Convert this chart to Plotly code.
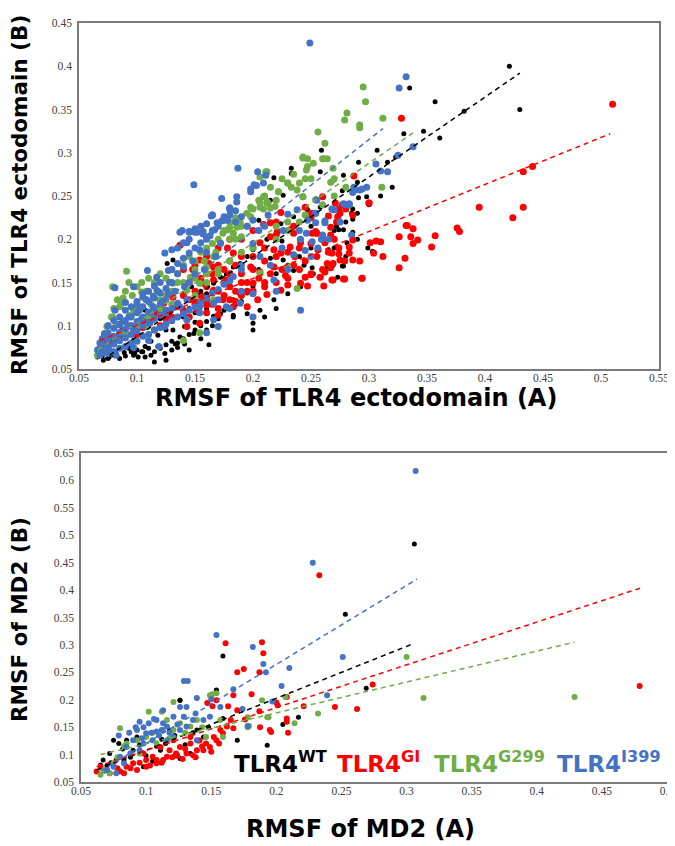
import plotly.graph_objects as go

# ---------------- Top panel: TLR4 ectodomain ----------------
ecto_wt_x = [0.421,0.430,0.335,0.357,0.382,0.347,0.361,0.330,0.307,0.291,0.316,0.278,0.323,0.290,0.277,0.291,0.298,0.286,
             0.259,0.233,0.233,0.218,0.258,0.269,0.194,0.226,
             0.286,0.272,0.278,0.286,0.299,0.304,0.278,0.269,
             0.285,0.274,0.303,0.277,0.251,0.257,0.244,0.265,0.281,
             0.066,0.071,0.076,0.082,0.089,0.098,0.101,0.107,0.112,0.118,0.124,0.130,0.133,0.141,0.137,0.149,0.160,0.166,0.172,0.183,
             0.170,0.118,0.107,0.097,0.131,0.141,0.154,0.160,0.166,0.172,0.177,0.183,0.189,0.195,0.200,0.212,0.224,0.235,0.247,0.258,
             0.126,0.131,0.107,0.097,0.085,0.140,0.147,0.183,0.195,0.206,0.218,0.230,0.241,0.252,0.264,0.226,0.235,0.273,0.097,0.135,
             0.200,0.183,0.075,0.080,0.090,0.100,0.110,0.120,0.128,0.145,0.155,0.190,0.205,0.215,0.240,0.250,0.262,0.215,0.205,0.225,
             0.112,0.125,0.115,0.145,0.155,0.162,0.093,0.104,0.150,0.178,
             0.070,0.075,0.080,0.085,0.090,0.095,0.100,0.105,0.110,0.115,0.120,0.125,0.130,0.135,0.140,0.145,0.150,0.155,0.160,0.165,
             0.170,0.175,0.180,0.185,0.190,0.195,0.200,0.210,0.220,0.230,0.240,0.250,0.260,0.270,0.280,0.290,0.300,0.310,0.320,0.200,
             0.210,0.220,0.125,0.130,0.140,0.150,0.160,0.270,0.280,0.290]
ecto_wt_y = [0.400,0.350,0.375,0.359,0.348,0.325,0.317,0.322,0.303,0.289,0.289,0.274,0.295,0.266,0.256,0.248,0.249,0.235,
             0.303,0.282,0.276,0.271,0.278,0.268,0.230,0.251,
             0.223,0.215,0.211,0.208,0.190,0.185,0.169,0.170,
             0.230,0.211,0.186,0.169,0.167,0.156,0.170,0.188,0.196,
             0.064,0.060,0.064,0.068,0.069,0.068,0.064,0.064,0.066,0.076,0.068,0.072,0.079,0.079,0.087,0.091,0.095,0.111,0.114,0.112,
             0.099,0.089,0.076,0.083,0.095,0.099,0.126,0.137,0.149,0.156,0.160,0.168,0.172,0.180,0.188,0.200,0.218,0.226,0.234,0.237,
             0.172,0.176,0.118,0.115,0.103,0.137,0.145,0.130,0.114,0.118,0.130,0.137,0.145,0.160,0.168,0.176,0.164,0.156,0.066,0.080,
             0.103,0.110,0.072,0.078,0.085,0.095,0.100,0.108,0.115,0.120,0.140,0.150,0.165,0.178,0.200,0.215,0.222,0.245,0.222,0.198,
             0.082,0.060,0.058,0.072,0.085,0.078,0.074,0.070,0.104,0.122,
             0.065,0.062,0.066,0.062,0.065,0.070,0.072,0.070,0.074,0.070,0.074,0.078,0.082,0.075,0.085,0.090,0.095,0.100,0.105,0.100,
             0.108,0.118,0.120,0.125,0.128,0.138,0.145,0.150,0.160,0.170,0.180,0.190,0.200,0.210,0.220,0.230,0.240,0.250,0.260,0.095,
             0.110,0.120,0.095,0.105,0.110,0.115,0.120,0.190,0.180,0.200]

ecto_gi_x = [0.300,0.286,0.275,0.274,0.272,0.262,0.251,0.254,0.256,0.268,0.274,0.274,0.283,0.286,0.283,0.286,0.275,0.279,0.264,0.267,
             0.262,0.245,0.269,0.278,0.294,0.292,0.261,0.247,0.301,0.306,0.310,0.304,0.312,0.326,0.336,0.342,0.338,0.332,0.338,0.357,
             0.354,0.331,0.326,0.376,0.378,0.395,0.433,0.424,0.510,0.441,0.433,0.328,0.287,0.300,0.333,0.294,0.279,0.268,
             0.137,0.154,0.166,0.180,0.206,0.218,0.224,0.232,0.241,0.235,0.255,0.267,0.269,0.258,0.250,0.241,0.230,0.224,0.212,0.204,
             0.195,0.183,0.174,0.166,0.157,0.152,0.154,0.143,0.135,0.131,0.123,0.117,0.105,0.097,0.088,0.079,0.071,0.166,0.160,0.177,
             0.189,0.200,0.183,0.206,0.215,0.218,0.221,0.245,0.250,0.273,0.277,0.280,0.265,0.209,0.215,0.232,0.255,0.267,0.220,0.224,
             0.271,0.260,0.145,0.150,0.170,0.185,0.195,0.110,0.125,0.140,0.160,0.175,0.190,0.210,0.228,0.148,0.162,0.178,0.198,0.236,
             0.130,0.135,0.140,0.140,0.145,0.145,0.150,0.150,0.155,0.155,0.160,0.160,0.165,0.165,0.170,0.170,0.175,0.175,0.180,0.180,
             0.185,0.185,0.190,0.190,0.195,0.200,0.200,0.205,0.210,0.210,0.215,0.220,0.225,0.230,0.235,0.240,0.245,0.250,0.255,0.260,
             0.265,0.270,0.120,0.125,0.115,0.110,0.100,0.090,0.085,0.080,0.075,0.095,0.105,0.160,0.170,0.180,0.190,0.200,0.210,0.220,
             0.230,0.240,0.250,0.260,0.140,0.150,0.160,0.170,0.180,0.190,0.200,0.220,0.235,0.250]
ecto_gi_y = [0.242,0.228,0.230,0.235,0.220,0.196,0.207,0.209,0.188,0.184,0.190,0.183,0.191,0.199,0.184,0.176,0.176,0.175,0.172,0.167,
             0.162,0.156,0.153,0.154,0.155,0.175,0.146,0.146,0.196,0.198,0.197,0.184,0.180,0.203,0.203,0.199,0.195,0.216,0.212,0.204,
             0.191,0.178,0.167,0.213,0.209,0.237,0.237,0.225,0.356,0.284,0.278,0.340,0.273,0.242,0.216,0.155,0.154,0.153,
             0.193,0.176,0.168,0.175,0.162,0.168,0.184,0.191,0.196,0.207,0.207,0.214,0.172,0.156,0.159,0.149,0.147,0.141,0.136,0.130,
             0.122,0.122,0.130,0.141,0.149,0.118,0.103,0.099,0.122,0.133,0.126,0.115,0.107,0.099,0.095,0.083,0.080,0.153,0.160,0.153,
             0.138,0.149,0.184,0.196,0.203,0.188,0.209,0.237,0.230,0.226,0.240,0.235,0.227,0.217,0.219,0.211,0.207,0.205,0.205,0.231,
             0.242,0.249,0.110,0.128,0.112,0.128,0.140,0.112,0.108,0.118,0.124,0.135,0.150,0.150,0.158,0.165,0.172,0.190,0.168,0.180,
             0.110,0.125,0.115,0.135,0.130,0.150,0.125,0.140,0.135,0.155,0.130,0.145,0.125,0.160,0.140,0.170,0.150,0.165,0.145,0.160,
             0.170,0.140,0.160,0.180,0.150,0.165,0.180,0.155,0.175,0.190,0.160,0.180,0.165,0.185,0.170,0.190,0.175,0.195,0.180,0.200,
             0.185,0.200,0.100,0.115,0.095,0.105,0.090,0.088,0.090,0.085,0.082,0.100,0.098,0.115,0.120,0.130,0.135,0.140,0.145,0.150,
             0.155,0.165,0.160,0.165,0.165,0.170,0.180,0.190,0.200,0.200,0.210,0.220,0.215,0.225]

ecto_g299_x = [0.256,0.262,0.243,0.247,0.252,0.260,0.264,0.211,0.230,0.246,0.245,0.222,0.233,0.210,0.206,0.213,0.219,0.209,0.267,
               0.295,0.297,0.281,0.279,0.292,0.292,0.312,0.311,0.269,0.243,0.245,0.254,
               0.079,0.091,0.104,0.085,0.079,0.074,0.072,0.068,0.066,0.117,0.131,0.143,0.146,0.160,0.166,0.172,0.174,0.154,0.123,0.114,
               0.140,0.120,0.108,0.097,0.088,0.180,0.189,0.198,0.206,0.212,0.238,0.230,0.206,0.166,0.143,0.154,0.109,0.180,0.190,
               0.212,0.206,0.209,0.212,0.215,0.198,0.186,0.178,0.183,0.230,0.222,0.238,0.243,0.247,0.261,0.243,0.230,0.270,
               0.076,0.082,0.094,0.100,0.112,0.125,0.135,0.150,0.158,0.168,0.185,0.195,0.170,0.150,0.130,0.160,0.200,0.220,
               0.070,0.072,0.075,0.078,0.080,0.083,0.086,0.090,0.093,0.096,0.100,0.104,0.108,0.110,0.115,0.120,0.125,0.130,0.135,0.140,
               0.145,0.150,0.155,0.160,0.165,0.170,0.175,0.180,0.185,0.190,0.195,0.200,0.205,0.210,0.215,0.220,0.225,0.235,0.240,0.250,
               0.130,0.140,0.150,0.160,0.170,0.180,0.190,0.200,0.120,0.110,0.100,0.090,0.220,0.230,0.240,0.270,0.280,0.260]
ecto_g299_y = [0.324,0.311,0.294,0.293,0.288,0.293,0.293,0.278,0.265,0.280,0.270,0.255,0.260,0.249,0.242,0.242,0.238,0.235,0.266,
               0.376,0.359,0.346,0.338,0.332,0.329,0.340,0.260,0.282,0.249,0.228,0.246,
               0.145,0.163,0.139,0.122,0.110,0.099,0.087,0.075,0.066,0.141,0.149,0.141,0.156,0.168,0.180,0.196,0.207,0.149,0.118,0.107,
               0.083,0.130,0.130,0.118,0.132,0.214,0.219,0.226,0.237,0.242,0.143,0.168,0.161,0.130,0.107,0.092,0.099,0.200,0.203,
               0.278,0.272,0.249,0.243,0.236,0.237,0.214,0.211,0.207,0.265,0.255,0.257,0.295,0.284,0.293,0.249,0.220,0.270,
               0.088,0.102,0.112,0.120,0.125,0.135,0.150,0.165,0.175,0.185,0.200,0.215,0.160,0.135,0.125,0.150,0.190,0.215,
               0.075,0.090,0.100,0.110,0.120,0.130,0.125,0.140,0.150,0.135,0.145,0.150,0.140,0.155,0.150,0.160,0.155,0.165,0.160,0.170,
               0.180,0.175,0.185,0.190,0.195,0.200,0.210,0.220,0.225,0.215,0.230,0.235,0.245,0.250,0.260,0.245,0.270,0.275,0.265,0.270,
               0.140,0.150,0.155,0.160,0.165,0.175,0.185,0.190,0.120,0.110,0.100,0.092,0.200,0.210,0.220,0.250,0.260,0.240]

ecto_i399_x = [0.249,0.149,0.187,0.204,0.211,0.209,0.203,0.186,0.173,0.165,0.180,0.185,0.198,
               0.332,0.326,0.338,0.325,0.306,0.310,0.316,0.287,0.292,0.286,0.298,0.278,0.283,0.268,
               0.288,0.294,0.280,0.254,0.262,0.254,0.251,0.260,0.246,0.256,0.245,
               0.201,0.198,0.186,0.180,0.164,0.175,0.178,0.169,0.167,0.139,0.145,0.150,0.157,0.163,0.213,0.238,0.254,0.262,0.270,0.283,0.230,
               0.137,0.145,0.152,0.157,0.165,0.173,0.180,0.124,0.130,0.143,0.154,0.160,0.109,0.117,0.127,0.140,0.097,0.105,0.114,0.127,
               0.141,0.150,0.081,0.081,0.090,0.102,0.114,0.125,0.137,0.143,0.154,0.166,0.177,0.189,0.200,0.068,0.071,0.076,0.085,0.097,
               0.111,0.124,0.143,0.160,0.154,0.097,0.082,0.068,0.066,0.072,0.110,0.119,0.170,0.166,
               0.226,0.247,0.241,0.259,0.269,0.235,0.206,0.200,0.218,0.183,0.200,0.241,
               0.088,0.093,0.100,0.108,0.118,0.128,0.135,0.148,0.160,0.172,0.085,0.092,0.104,0.112,0.122,0.133,0.145,0.158,0.168,0.190,
               0.070,0.070,0.070,0.075,0.075,0.075,0.075,0.075,0.080,0.080,0.080,0.080,0.080,0.085,0.085,0.085,0.085,0.085,
               0.090,0.090,0.090,0.090,0.090,0.095,0.095,0.095,0.095,0.095,0.100,0.100,0.100,0.100,0.100,0.105,0.105,0.105,0.105,0.105,
               0.110,0.110,0.110,0.110,0.110,0.115,0.115,0.115,0.115,0.115,0.120,0.120,0.120,0.120,0.120,0.125,0.125,0.125,0.125,
               0.130,0.130,0.130,0.130,0.135,0.135,0.135,0.135,0.140,0.140,0.140,0.145,0.145,0.145,0.150,0.150,0.150,0.155,0.155,0.155,
               0.160,0.160,0.160,0.165,0.165,0.170,0.170,0.175,0.175,0.180,0.180,0.185,0.190,0.190,0.195,0.200,0.205,0.210,
               0.215,0.225,0.230,0.240,0.250,0.265,0.275,0.285,0.220,0.255,0.180,0.190,0.170]
ecto_i399_y = [0.427,0.263,0.282,0.278,0.274,0.265,0.262,0.249,0.247,0.228,0.236,0.233,0.258,
               0.388,0.375,0.307,0.297,0.287,0.279,0.278,0.260,0.257,0.254,0.260,0.241,0.241,0.235,
               0.257,0.258,0.240,0.230,0.219,0.219,0.197,0.205,0.207,0.190,0.187,
               0.263,0.255,0.243,0.236,0.227,0.226,0.222,0.219,0.211,0.210,0.209,0.208,0.209,0.204,0.228,0.234,0.230,0.221,0.234,0.240,0.229,
               0.208,0.208,0.208,0.206,0.228,0.221,0.234,0.184,0.188,0.196,0.188,0.200,0.164,0.156,0.164,0.168,0.145,0.137,0.134,0.137,
               0.145,0.160,0.144,0.118,0.118,0.118,0.122,0.115,0.122,0.130,0.122,0.126,0.122,0.126,0.137,0.080,0.069,0.072,0.083,0.095,
               0.103,0.099,0.107,0.092,0.115,0.075,0.066,0.066,0.072,0.091,0.083,0.076,0.099,0.107,
               0.210,0.222,0.200,0.200,0.234,0.182,0.180,0.195,0.153,0.157,0.110,0.118,
               0.105,0.110,0.125,0.130,0.140,0.150,0.160,0.175,0.185,0.195,0.092,0.100,0.108,0.115,0.128,0.140,0.150,0.165,0.180,0.170,
               0.070,0.078,0.085,0.068,0.076,0.084,0.092,0.100,0.070,0.079,0.088,0.097,0.106,0.074,0.083,0.092,0.101,0.110,
               0.076,0.086,0.096,0.106,0.127,0.080,0.090,0.100,0.110,0.122,0.082,0.094,0.105,0.115,0.128,0.088,0.100,0.110,0.122,0.133,
               0.090,0.104,0.116,0.128,0.140,0.095,0.108,0.120,0.132,0.146,0.098,0.112,0.125,0.138,0.150,0.102,0.118,0.130,0.143,
               0.106,0.120,0.150,0.165,0.110,0.126,0.172,0.190,0.114,0.178,0.196,0.118,0.184,0.200,0.122,0.190,0.212,0.128,0.196,0.215,
               0.132,0.202,0.218,0.138,0.210,0.142,0.215,0.148,0.222,0.152,0.228,0.220,0.165,0.226,0.215,0.222,0.210,0.215,
               0.170,0.190,0.165,0.210,0.180,0.200,0.220,0.205,0.140,0.245,0.120,0.140,0.130]

# fitted trend lines (end points)
ecto_fit_x = {"wt": [0.070, 0.430], "gi": [0.068, 0.508], "g299": [0.066, 0.338], "i399": [0.066, 0.312]}
ecto_fit_y = {"wt": [0.060, 0.392], "gi": [0.083, 0.322], "g299": [0.072, 0.323], "i399": [0.068, 0.328]}

# ---------------- Bottom panel: MD2 ----------------
md2_wt_x = [0.306,0.253,0.269,0.159,0.126,0.154,0.217,0.205,0.193,0.170,
            0.075,0.079,0.072,0.067,0.065,0.077,0.118,0.121,0.126,0.134,0.154,0.126,0.111,0.144,0.139,0.159,0.093,0.085,0.083,0.098,0.090,
            0.100,0.108,0.115,0.130,0.070,0.088,0.105,0.140,0.068,0.073,0.082,0.095,0.112,0.122,0.136,0.148]
md2_wt_y = [0.484,0.356,0.221,0.280,0.199,0.217,0.168,0.155,0.117,0.126,
            0.126,0.120,0.102,0.090,0.081,0.090,0.145,0.096,0.093,0.102,0.218,0.199,0.108,0.132,0.145,0.166,0.132,0.126,0.090,0.078,0.108,
            0.098,0.115,0.120,0.118,0.080,0.095,0.088,0.125,0.070,0.085,0.110,0.118,0.128,0.135,0.140,0.150]

md2_gi_x = [0.233,0.274,0.245,0.262,0.479,0.161,0.189,0.190,0.170,0.175,0.187,0.167,0.154,0.181,0.147,0.163,0.151,0.170,0.208,0.200,
            0.187,0.176,0.208,0.195,0.208,0.209,0.221,0.201,0.196,0.1875,
            0.100,0.108,0.116,0.123,0.131,0.139,0.146,0.152,0.157,0.162,0.165,0.126,0.134,0.141,0.118,0.111,0.090,0.085,0.093,0.083,
            0.065,0.062,0.072,0.080,0.100,0.108,0.136,0.144,0.149,0.154,0.159,0.167,0.134,0.121,0.098,0.105,0.113,
            0.095,0.103,0.112,0.120,0.128,0.138,0.143,0.150,0.156,0.130,0.124,0.088,0.078,0.070]
md2_gi_y = [0.427,0.228,0.187,0.183,0.225,0.303,0.305,0.285,0.250,0.256,0.250,0.208,0.199,0.210,0.194,0.188,0.188,0.181,0.205,0.195,
            0.179,0.164,0.166,0.145,0.160,0.140,0.188,0.190,0.141,0.150,
            0.090,0.090,0.096,0.102,0.102,0.108,0.120,0.132,0.145,0.151,0.163,0.114,0.120,0.126,0.108,0.114,0.084,0.078,0.072,0.066,
            0.078,0.069,0.066,0.069,0.078,0.084,0.099,0.108,0.114,0.126,0.139,0.148,0.132,0.126,0.102,0.096,0.090,
            0.085,0.080,0.085,0.095,0.092,0.095,0.115,0.105,0.120,0.110,0.098,0.075,0.075,0.072]

md2_g299_x = [0.300,0.313,0.429,0.151,0.121,0.189,0.193,0.178,0.179,0.232,0.214,0.207,0.194,0.178,
              0.080,0.072,0.065,0.068,0.075,0.088,0.093,0.102,0.112,0.116,0.121,0.126,0.134,0.149,0.154,0.146,0.159,0.100,0.108,0.085,
              0.095,0.113,0.139,0.157,0.078,0.083,0.105,0.118,0.130,0.143]
md2_g299_y = [0.278,0.203,0.205,0.210,0.196,0.199,0.168,0.168,0.152,0.175,0.157,0.205,0.168,0.150,
              0.148,0.066,0.063,0.072,0.084,0.102,0.126,0.178,0.178,0.163,0.145,0.157,0.151,0.208,0.212,0.132,0.132,0.132,0.120,0.120,
              0.102,0.145,0.163,0.163,0.095,0.115,0.140,0.130,0.140,0.150]

md2_i399_x = [0.307,0.228,0.251,0.182,0.190,0.210,0.192,0.129,0.132,0.204,0.167,0.139,0.131,0.150,0.174,0.197,0.154,0.239,0.178,
              0.079,0.095,0.102,0.108,0.113,0.093,0.100,0.108,0.116,0.121,0.126,0.131,0.136,0.138,0.129,0.121,0.113,0.126,0.090,0.098,
              0.105,0.116,0.085,0.095,0.080,0.075,0.070,0.077,0.083,0.088,0.144,0.149,0.157,0.139,
              0.087,0.092,0.097,0.104,0.110,0.118,0.124,0.098,0.106,0.112]
md2_i399_y = [0.617,0.450,0.278,0.296,0.265,0.258,0.250,0.234,0.234,0.225,0.219,0.203,0.187,0.201,0.183,0.197,0.318,0.208,0.152,
              0.135,0.160,0.157,0.163,0.157,0.145,0.139,0.142,0.151,0.132,0.145,0.151,0.163,0.175,0.169,0.169,0.181,0.187,0.126,0.120,
              0.126,0.126,0.114,0.108,0.096,0.078,0.072,0.066,0.084,0.102,0.163,0.169,0.187,0.126,
              0.140,0.150,0.130,0.140,0.135,0.140,0.155,0.150,0.165,0.145]

md2_fit_x = {"wt": [0.062, 0.305], "gi": [0.062, 0.480], "g299": [0.065, 0.429], "i399": [0.065, 0.308]}
md2_fit_y = {"wt": [0.072, 0.302], "gi": [0.078, 0.404], "g299": [0.100, 0.305], "i399": [0.070, 0.420]}

# ticks
ecto_xticks = [0.05,0.1,0.15,0.2,0.25,0.3,0.35,0.4,0.45,0.5,0.55]
ecto_yticks = [0.05,0.1,0.15,0.2,0.25,0.3,0.35,0.4,0.45]
md2_xticks = [0.05,0.1,0.15,0.2,0.25,0.3,0.35,0.4,0.45,0.5]
md2_yticks = [0.05,0.1,0.15,0.2,0.25,0.3,0.35,0.4,0.45,0.5,0.55,0.6,0.65]

series_keys = ["wt", "gi", "g299", "i399"]
colors = {"wt": "#000000", "gi": "#ff0000", "g299": "#70ad47", "i399": "#4472c4"}
sizes = {"wt": 5, "gi": 7, "g299": 7, "i399": 7}
sizes2 = {"wt": 5, "gi": 6, "g299": 6, "i399": 6}

ecto = {"wt": (ecto_wt_x, ecto_wt_y), "gi": (ecto_gi_x, ecto_gi_y),
        "g299": (ecto_g299_x, ecto_g299_y), "i399": (ecto_i399_x, ecto_i399_y)}
md2 = {"wt": (md2_wt_x, md2_wt_y), "gi": (md2_gi_x, md2_gi_y),
       "g299": (md2_g299_x, md2_g299_y), "i399": (md2_i399_x, md2_i399_y)}

# The page body has an 8px margin, so the figure is placed 8px in and made 8px smaller.
OFF = 8
W, H = 675 - OFF, 846 - OFF
def px(x):
    return (x - OFF) / W
def py(y):
    return 1 - (y - OFF) / H

fig = go.Figure()
for k in series_keys:
    fig.add_trace(go.Scatter(x=ecto[k][0], y=ecto[k][1], mode="markers", xaxis="x", yaxis="y",
                             marker=dict(color=colors[k], size=sizes[k], line=dict(width=0)), showlegend=False))
for k in series_keys:
    fig.add_trace(go.Scatter(x=ecto_fit_x[k], y=ecto_fit_y[k], mode="lines", xaxis="x", yaxis="y",
                             line=dict(color=colors[k], width=1.5, dash="5px,4px"), showlegend=False))
for k in series_keys:
    fig.add_trace(go.Scatter(x=md2[k][0], y=md2[k][1], mode="markers", xaxis="x2", yaxis="y2",
                             marker=dict(color=colors[k], size=sizes2[k], line=dict(width=0)), showlegend=False))
for k in series_keys:
    fig.add_trace(go.Scatter(x=md2_fit_x[k], y=md2_fit_y[k], mode="lines", xaxis="x2", yaxis="y2",
                             line=dict(color=colors[k], width=1.5, dash="5px,4px"), showlegend=False))

tickfont = dict(family="Liberation Serif", size=11.5, color="#404040")
axis_common = dict(showgrid=False, zeroline=False, showline=True, mirror=True, linecolor="#7a7a7a",
                   linewidth=1.5, ticks="", tickfont=tickfont, automargin=False)

fig.update_layout(
    template="none",
    width=W, height=H, margin=dict(l=0, r=0, t=0, b=0, autoexpand=False),
    paper_bgcolor="white", plot_bgcolor="white",
    xaxis=dict(domain=[px(79), px(659)], range=[0.05, 0.55], tickvals=ecto_xticks,
               ticktext=[f"{v:g}" for v in ecto_xticks], anchor="y", ticklabelstandoff=-3, **axis_common),
    yaxis=dict(domain=[py(369), py(23)], range=[0.05, 0.45], tickvals=ecto_yticks,
               ticktext=[f"{v:g}" for v in ecto_yticks], anchor="x", ticklabelstandoff=3, **axis_common),
    xaxis2=dict(domain=[px(81), px(667)], range=[0.05, 0.5], tickvals=md2_xticks,
                ticktext=[f"{v:g}" for v in md2_xticks], anchor="y2", ticklabelstandoff=-3, **axis_common),
    yaxis2=dict(domain=[py(782), py(453)], range=[0.05, 0.65], tickvals=md2_yticks,
                ticktext=[f"{v:g}" for v in md2_yticks], anchor="x2", ticklabelstandoff=3, **axis_common),
)

xtitle_font = dict(family="DejaVu Sans", size=24, color="#000000")
ytitle_font = dict(family="DejaVu Sans", size=21.5, color="#000000")
annotations = [
    dict(text="<b>RMSF of TLR4 ectodomain (A)</b>", x=px(356), y=py(398), xref="paper", yref="paper",
         showarrow=False, font=xtitle_font, xanchor="center", yanchor="middle"),
    dict(text="<b>RMSF of TLR4 ectodomain (B)</b>", x=px(19), y=py(195), xref="paper", yref="paper",
         showarrow=False, font=ytitle_font, textangle=-90, xanchor="center", yanchor="middle"),
    dict(text="<b>RMSF of MD2 (A)</b>", x=px(360), y=py(829), xref="paper", yref="paper",
         showarrow=False, font=xtitle_font, xanchor="center", yanchor="middle"),
    dict(text="<b>RMSF of MD2 (B)</b>", x=px(19), y=py(620), xref="paper", yref="paper",
         showarrow=False, font=ytitle_font, textangle=-90, xanchor="center", yanchor="middle"),
]
legend_labels = {"wt": "WT", "gi": "GI", "g299": "G299", "i399": "I399"}
legend_x = {"wt": 232, "gi": 335, "g299": 432, "i399": 555}
for k in series_keys:
    annotations.append(dict(text=f"<b>TLR4<sup>{legend_labels[k]}</sup></b>", x=px(legend_x[k]), y=py(762),
                            xref="paper", yref="paper", showarrow=False, xanchor="left", yanchor="middle",
                            font=dict(family="DejaVu Sans", size=23, color=colors[k])))
fig.update_layout(annotations=annotations)

fig.write_html("out.html")
